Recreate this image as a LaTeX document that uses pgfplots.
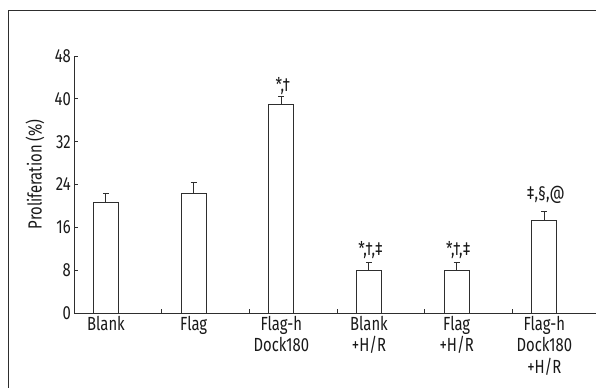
\documentclass[border=0pt]{standalone}
\usepackage{fontspec}
\setmainfont{Fira Sans}[FakeStretch=0.78]
\usepackage{pgfplots}
\pgfplotsset{compat=1.18}
\usepackage{pgfplotstable}
\newcommand{\fs}{\fontsize{19bp}{21.5bp}\selectfont}
\definecolor{ln}{HTML}{2E2E2E}

\pgfplotstableread{
x y e
0 20.6 1.8
1 22.3 2.0
2 39.0 1.4
3 8.0 1.5
4 8.0 1.5
5 17.2 1.8
}\bars
\pgfplotstableread{
x y lab
2 41.3 *,†
3 10.65 *,†,‡
4 10.65 *,†,‡
5 21.2 ‡,§,@
}\notes

\begin{document}
\begin{tikzpicture}
\useasboundingbox (0,0) rectangle (596bp,388bp);
\draw[line width=1bp, ln] (8bp,377.5bp) rectangle (620bp,-20bp);
\begin{axis}[
  at={(74bp,75bp)}, anchor=south west,
  scale only axis, width=526bp, height=257bp,
  xmin=-0.365, xmax=5.635, ymin=0, ymax=48,
  axis x line*=bottom, axis y line*=left,
  axis line style={line width=1bp, ln},
  every tick/.style={line width=1bp, ln},
  ytick={0,8,...,48},
  xtick={0,...,5},
  xticklabels={Blank, Flag, {Flag-h\\Dock180}, {Blank\\+H/R}, {Flag\\+H/R}, {Flag-h\\Dock180\\+H/R}},
  minor xtick={0.635,1.635,2.635,3.635,4.635},
  major x tick style={draw=none},
  tick align=inside,
  major tick length=4bp, minor tick length=4bp,
  x tick label style={font=\fs, align=center, text=black!90, inner sep=3bp},
  y tick label style={font=\fs, text=black!90, inner sep=3bp},
  /pgf/number format/assume math mode=true,
  ylabel={Proliferation (\%)},
  ylabel style={font=\fs, at={(axis description cs:-0.0741,0.54)}, anchor=center, text=black!90},
  clip=false,
]
\addplot[ybar, bar width=25bp, fill=white, draw=ln, line width=1bp,
  error bars/.cd, y dir=plus, y explicit,
  error bar style={line width=1bp, ln},
  error mark options={rotate=90, mark size=3bp, line width=1bp, ln}]
  table[x=x, y=y, y error=e] {\bars};
\addplot[draw=none, mark=none, nodes near coords, point meta=explicit symbolic,
  every node near coord/.append style={anchor=base, font=\fs, text=black!90, xshift=1.5bp}]
  table[x=x, y=y, meta=lab] {\notes};
\end{axis}
\end{tikzpicture}
\end{document}
